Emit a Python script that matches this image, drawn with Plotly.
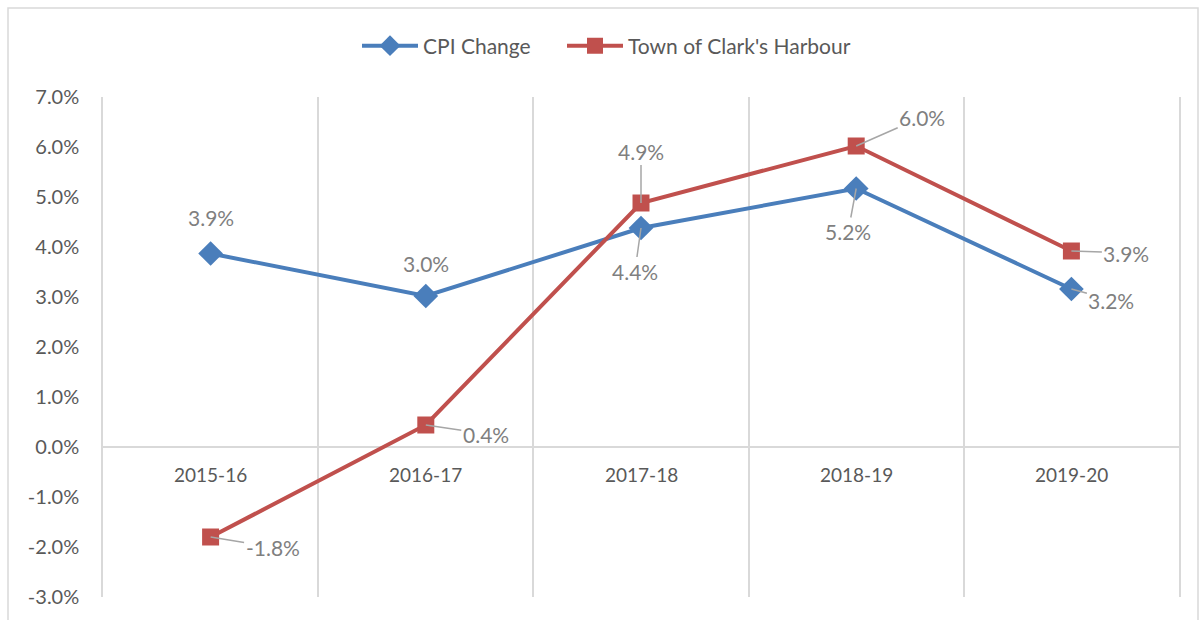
import plotly.graph_objects as go

categories = ["2015-16", "2016-17", "2017-18", "2018-19", "2019-20"]
cpi_change = [3.87, 3.02, 4.38, 5.17, 3.16]
clarks_harbour = [-1.8, 0.44, 4.88, 6.02, 3.92]
y_ticks = [-3, -2, -1, 0, 1, 2, 3, 4, 5, 6, 7]

BLUE = "#4a7ebb"
RED = "#c0504d"
AXIS_TXT = "#595959"
LABEL_TXT = "#7f7f7f"
GRID = "#d9d9d9"
FONT = "Lato, 'Open Sans', sans-serif"

fig = go.Figure()
fig.add_trace(go.Scatter(
    x=categories, y=cpi_change, name="CPI Change", mode="lines+markers",
    line=dict(color=BLUE, width=4),
    marker=dict(symbol="diamond", size=19, color=BLUE),
    legend="legend",
))
fig.add_trace(go.Scatter(
    x=categories, y=clarks_harbour, name="Town of Clark's Harbour", mode="lines+markers",
    line=dict(color=RED, width=4),
    marker=dict(symbol="square", size=17, color=RED),
    legend="legend2",
))

annotations = []
# data label offsets (pixels) for each point: (ax, ay, leader)
cpi_offsets = [(0, -36, False), (0, -33, False), (-6, 43, True), (-8, 43, True), (40, 11, True)]
town_offsets = [(62, 10, True), (60, 9, True), (0, -52, True), (66, -29, True), (55, 2, True)]

def add_labels(values, offsets):
    for cat, v, (ax, ay, leader) in zip(categories, values, offsets):
        txt = f"{v:.1f}%"
        if leader:
            annotations.append(dict(
                x=cat, y=v, text=txt, showarrow=True, ax=ax, ay=ay,
                arrowhead=0, arrowwidth=1.5, arrowcolor="#a6a6a6", standoff=0,
                font=dict(family=FONT, size=21, color=LABEL_TXT),
            ))
        else:
            annotations.append(dict(
                x=cat, y=v, text=txt, showarrow=False, xshift=ax, yshift=-ay,
                font=dict(family=FONT, size=21, color=LABEL_TXT),
            ))

add_labels(cpi_change, cpi_offsets)
add_labels(clarks_harbour, town_offsets)

for cat in categories:
    annotations.append(dict(
        x=cat, y=0, text=cat, showarrow=False, yanchor="middle", yshift=-27,
        font=dict(family=FONT, size=19, color=AXIS_TXT),
    ))

W, H = 1199, 620
ml, mr, mt, mb = 103, 20, 97, 23
pw, ph = W - ml - mr, H - mt - mb

def px_to_paper_x(px):
    return (px - ml) / pw

def px_to_paper_y(py):
    return (H - mb - py) / ph

legend_common = dict(
    orientation="h", xanchor="left", y=px_to_paper_y(46), yanchor="middle",
    font=dict(family=FONT, size=21, color=AXIS_TXT), itemwidth=56,
    bgcolor="rgba(0,0,0,0)",
)

fig.update_layout(
    width=W, height=H,
    margin=dict(l=ml, r=mr, t=mt, b=mb, autoexpand=False),
    paper_bgcolor="white", plot_bgcolor="white",
    font=dict(family=FONT, color=AXIS_TXT),
    showlegend=True,
    legend=dict(x=px_to_paper_x(357), **legend_common),
    legend2=dict(x=px_to_paper_x(562), **legend_common),
    xaxis=dict(
        type="category", range=[-0.5, 4.5], tickson="boundaries",
        showgrid=True, gridcolor=GRID, gridwidth=1.5,
        showticklabels=False, ticks="", showline=False, zeroline=False,
    ),
    yaxis=dict(
        range=[-3, 7], tickvals=y_ticks, ticktext=[f"{t:.1f}%" for t in y_ticks],
        showgrid=False, zeroline=True, zerolinecolor=GRID, zerolinewidth=2,
        showline=True, mirror=True, linecolor=GRID, linewidth=1.5,
        ticks="", ticklabelstandoff=18,
        tickfont=dict(family=FONT, size=20, color=AXIS_TXT),
    ),
    annotations=annotations,
    shapes=[dict(
        type="rect", xref="paper", yref="paper",
        x0=px_to_paper_x(8), x1=px_to_paper_x(1198),
        y0=px_to_paper_y(640), y1=px_to_paper_y(8),
        line=dict(color=GRID, width=1.5), fillcolor="rgba(0,0,0,0)", layer="below",
    )],
)

fig.write_html("out.html", post_script="document.body.style.margin='0';",
               config={"displayModeBar": False})
